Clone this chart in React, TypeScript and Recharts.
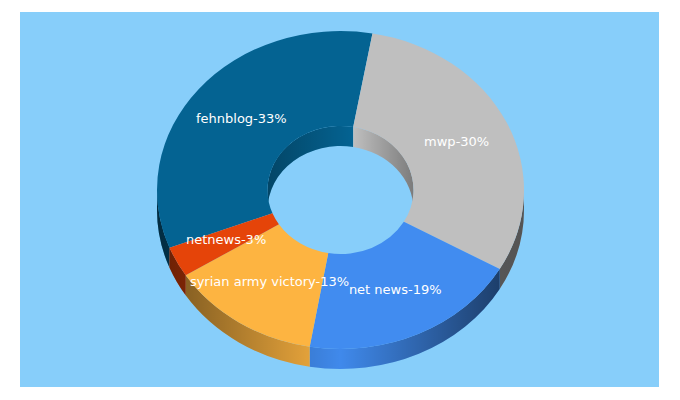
import { Pie, PieChart } from "recharts";

const NAMES = ["fehnblog", "mwp", "net news", "syrian army victory", "netnews"];
const SHARES = [33.7, 30.5, 19.4, 13.3, 3.1];
const SHOWN_PERCENT = [33, 30, 19, 13, 3];
const COLORS = ["#046392", "#bfbfbf", "#418cf0", "#fdb441", "#e54409"];

const data = NAMES.map((name, i) => ({
  name,
  value: SHARES[i],
  fill: COLORS[i],
  text: `${name}-${SHOWN_PERCENT[i]}%`,
}));

// the donut is tilted: radii below are the pie's own, squashed on y
const CX = 340.5;
const CY = 190;
const OUTER = 183.5;
const INNER = 73;
const OUTER_RY = 159;
const INNER_RY = 64;
const DEPTH = 20;
const START = -158.7;

const point = (rx: number, ry: number, deg: number, dy = 0) => {
  const a = (deg * Math.PI) / 180;
  return `${CX + rx * Math.cos(a)} ${CY + dy - ry * Math.sin(a)}`;
};

// arc from angle a to b, a > b means clockwise on screen
const arc = (rx: number, ry: number, a: number, b: number, dy = 0) =>
  `A${rx} ${ry} 0 ${Math.abs(a - b) > 180 ? 1 : 0} ${a > b ? 1 : 0} ${point(rx, ry, b, dy)}`;

const topFace = (props: any) => {
  const { startAngle: a, endAngle: b, fill } = props;
  const d = [
    `M${point(OUTER, OUTER_RY, a)}`,
    arc(OUTER, OUTER_RY, a, b),
    `L${point(INNER, INNER_RY, b)}`,
    arc(INNER, INNER_RY, b, a),
    "Z",
  ].join("");
  return <path d={d} fill={fill} />;
};

// side wall of one slice, only the part inside the visible half [lo, hi]
const wall = (props: any, rx: number, ry: number, lo: number, hi: number, shade: string) => {
  const { startAngle, endAngle, fill } = props;
  const parts = [];
  for (let k = -2; k <= 2; k++) {
    const a = Math.min(startAngle, hi + k * 360);
    const b = Math.max(endAngle, lo + k * 360);
    if (a <= b) continue;
    const d = [
      `M${point(rx, ry, a)}`,
      arc(rx, ry, a, b),
      `L${point(rx, ry, b, DEPTH)}`,
      arc(rx, ry, b, a, DEPTH),
      "Z",
    ].join("");
    parts.push(
      <g key={k}>
        <path d={d} fill={fill} />
        <path d={d} fill={`url(#${shade})`} />
      </g>,
    );
  }
  return <g>{parts}</g>;
};

const outerWall = (props: any) => wall(props, OUTER, OUTER_RY, 180, 360, "outerShade");
const innerWall = (props: any) => wall(props, INNER, INNER_RY, 0, 180, "innerShade");

const sliceLabel = (props: any) => {
  const a = (props.midAngle * Math.PI) / 180;
  const x = CX + ((OUTER + INNER) / 2) * Math.cos(a);
  const y = CY - ((OUTER_RY + INNER_RY) / 2) * Math.sin(a);
  return (
    <text x={x} y={y} textAnchor="middle" dominantBaseline="middle" fill="#ffffff" fontSize={13} fontFamily="DejaVu Sans">
      {props.text}
    </text>
  );
};

export default function App() {
  const pieProps = {
    data,
    dataKey: "value",
    nameKey: "name",
    cx: CX,
    cy: CY,
    innerRadius: INNER,
    outerRadius: OUTER,
    startAngle: START,
    endAngle: START - 360,
    stroke: "none",
    isAnimationActive: false,
  };
  return (
    <div style={{ position: "absolute", left: 0, top: 0, width: 680, height: 400, background: "#ffffff" }}>
      <div style={{ position: "absolute", left: 20, top: 12, width: 639, height: 375, background: "#87cefa" }} />
      <div style={{ position: "absolute", left: 0, top: 0 }}>
        <PieChart width={680} height={400} margin={{ top: 0, right: 0, bottom: 0, left: 0 }}>
          <defs>
            <linearGradient id="outerShade" gradientUnits="userSpaceOnUse" x1={157} x2={524} y1={0} y2={0}>
              <stop offset="0" stopColor="#000" stopOpacity={0.56} />
              <stop offset="0.08" stopColor="#000" stopOpacity={0.46} />
              <stop offset="0.42" stopColor="#000" stopOpacity={0.1} />
              <stop offset="0.5" stopColor="#000" stopOpacity={0.02} />
              <stop offset="0.93" stopColor="#000" stopOpacity={0.55} />
              <stop offset="1" stopColor="#000" stopOpacity={0.56} />
            </linearGradient>
            <linearGradient id="innerShade" gradientUnits="userSpaceOnUse" x1={267} x2={413} y1={0} y2={0}>
              <stop offset="0" stopColor="#000" stopOpacity={0.3} />
              <stop offset="0.59" stopColor="#000" stopOpacity={0} />
              <stop offset="1" stopColor="#000" stopOpacity={0.35} />
            </linearGradient>
          </defs>
          <Pie {...pieProps} shape={outerWall} />
          <Pie {...pieProps} shape={innerWall} />
          <Pie {...pieProps} shape={topFace} label={sliceLabel} labelLine={false} />
        </PieChart>
      </div>
    </div>
  );
}
